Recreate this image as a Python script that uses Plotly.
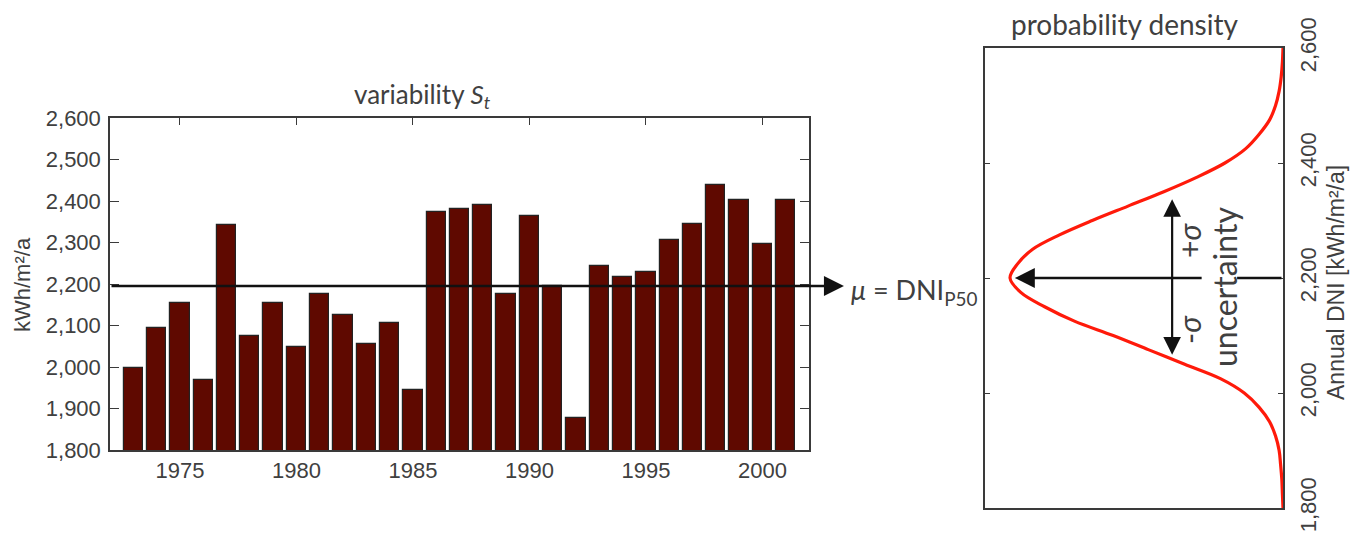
import plotly.graph_objects as go

# ---------------- data ----------------
years = list(range(1973, 2002))
annual_dni = [1997, 2094, 2155, 1968, 2343, 2075, 2155, 2049, 2177, 2126,
              2056, 2107, 1945, 2373, 2380, 2390, 2177, 2363, 2194, 1876,
              2243, 2218, 2230, 2306, 2344, 2438, 2402, 2296, 2402]
mean_dni = 2195          # mu line in the left panel
left_yticks = [1800, 1900, 2000, 2100, 2200, 2300, 2400, 2500, 2600]
left_xticks = [1975, 1980, 1985, 1990, 1995, 2000]

# probability density (relative units)
pdf_dni = [1800, 1825, 1850, 1875, 1900, 1925, 1950, 1975, 2000, 2025, 2050,
           2075, 2100, 2125, 2150, 2175, 2200, 2225, 2250, 2275, 2300, 2325,
           2350, 2375, 2400, 2425, 2450, 2475, 2500, 2525, 2550, 2575, 2600]
pdf_val = [0.0, 0.002, 0.004, 0.008, 0.013, 0.025, 0.045, 0.08, 0.13, 0.21,
           0.33, 0.45, 0.57, 0.70, 0.80, 0.88, 0.916, 0.89, 0.84, 0.75, 0.64,
           0.52, 0.40, 0.29, 0.195, 0.125, 0.08, 0.045, 0.025, 0.013, 0.006,
           0.002, 0.0]
pdf_mu = 2200
sigma_plus = 2337
sigma_minus = 2064
sigma_x = 0.372
right_yticks = [1800, 2000, 2200, 2400, 2600]

# page has an 8px body margin -> figure sits at (8, 8)
OFF = 8
W, H = 1359 - OFF, 536 - OFF
def px(x):
    return (x - OFF) / W
def py(y):
    return 1 - (y - OFF) / H

AX_FONT = "Liberation Sans, Arial, sans-serif"
TXT_FONT = "Lato, Open Sans, sans-serif"
GREY = "#404040"

fig = go.Figure()

fig.add_trace(go.Bar(
    x=years, y=annual_dni, width=0.83,
    marker=dict(color="#5f0900", line=dict(color="#222222", width=1.2)),
    xaxis="x", yaxis="y", showlegend=False))

fig.add_trace(go.Scatter(
    x=pdf_val, y=pdf_dni, mode="lines",
    line=dict(color="#ff1a0a", width=3.2, shape="spline"),
    xaxis="x2", yaxis="y2", showlegend=False))

axis_common = dict(showline=True, linecolor="#3a3a3a", linewidth=1.5,
                   showgrid=False, zeroline=False, ticks="inside",
                   tickcolor="#3a3a3a", mirror="ticks", automargin=False,
                   tickfont=dict(family=AX_FONT, size=22, color=GREY))

fig.update_layout(
    width=W, height=H,
    margin=dict(l=0, r=0, t=0, b=0, autoexpand=False),
    paper_bgcolor="white", plot_bgcolor="white",
    bargap=0,
    xaxis=dict(axis_common, domain=[px(110), px(809)], range=[1972, 2002],
               tickvals=left_xticks, ticklen=7, anchor="y",
               layer="below traces", ticklabelstandoff=0),
    yaxis=dict(axis_common, domain=[py(450), py(118)], range=[1800, 2600],
               tickvals=left_yticks, tickformat=",d", ticklen=9, anchor="x",
               ticklabelstandoff=3),
    xaxis2=dict(showline=True, linecolor="#3a3a3a", linewidth=1.5, mirror=True,
                showgrid=False, zeroline=False, showticklabels=False, ticks="",
                automargin=False,
                domain=[px(985), px(1283)], range=[1.0, 0.0], anchor="y2"),
    yaxis2=dict(axis_common, domain=[py(508), py(48)], range=[1800, 2600],
                tickvals=right_yticks, tickformat=",d", ticklen=5, side="right",
                anchor="x2", tickangle=-90, ticklabelstandoff=5),
)

GAP_LEFT, GAP_RIGHT = 0.268, 0.154   # gap in the mean arrow around the text

ann = []
# mean line with arrow (left panel)
ann.append(dict(x=2003.5, y=mean_dni, xref="x", yref="y",
                ax=1972, ay=mean_dni, axref="x", ayref="y",
                text="", showarrow=True, arrowhead=2, arrowsize=1.6,
                arrowwidth=2.5, arrowcolor="#111111", standoff=0))
# horizontal arrow to peak (right panel), interrupted by the text
ann.append(dict(x=0.90, y=pdf_mu, xref="x2", yref="y2",
                ax=GAP_LEFT, ay=pdf_mu, axref="x2", ayref="y2",
                text="", showarrow=True, arrowhead=2, arrowsize=1.6,
                arrowwidth=2.5, arrowcolor="#111111", standoff=0))
ann.append(dict(x=GAP_RIGHT, y=pdf_mu, xref="x2", yref="y2",
                ax=0.0, ay=pdf_mu, axref="x2", ayref="y2",
                text="", showarrow=True, arrowhead=0,
                arrowwidth=2.5, arrowcolor="#111111", standoff=0))
# +/- sigma double arrow
ann.append(dict(x=sigma_x, y=sigma_plus, xref="x2", yref="y2",
                ax=sigma_x, ay=sigma_minus, axref="x2", ayref="y2",
                text="", showarrow=True, arrowhead=2, arrowside="end+start",
                arrowsize=1.6, arrowwidth=2.2, arrowcolor="#111111", standoff=0))

def txt(t, x, y, size, font=TXT_FONT, angle=0, xanchor="center", **kw):
    d = dict(text=t, x=px(x), y=py(y), xref="paper", yref="paper",
             showarrow=False, textangle=angle, xanchor=xanchor, yanchor="middle",
             font=dict(family=font, size=size, color=GREY))
    d.update(kw)
    return d

ann.append(txt("variability <i>S</i><sub><i>t</i></sub>", 423, 96, 26))
ann.append(txt("kWh/m²/a", 22, 285, 22, font=AX_FONT, angle=-90))
ann.append(txt("probability density", 1124, 24, 28))
ann.append(txt("Annual DNI [kWh/m²/a]", 1336, 283, 23, font=AX_FONT, angle=-90))
ann.append(txt("<i>μ</i> = DNI<sub>P50</sub>", 849, 291, 27, xanchor="left"))
ann.append(txt("uncertainty", 1224, 287, 32, angle=-90))
ann.append(txt("+<i>σ</i>", 1189, 241, 30, angle=-90))
ann.append(txt("-<i>σ</i>", 1189, 330, 30, angle=-90))

fig.update_layout(annotations=ann)
fig.write_html("out.html")
